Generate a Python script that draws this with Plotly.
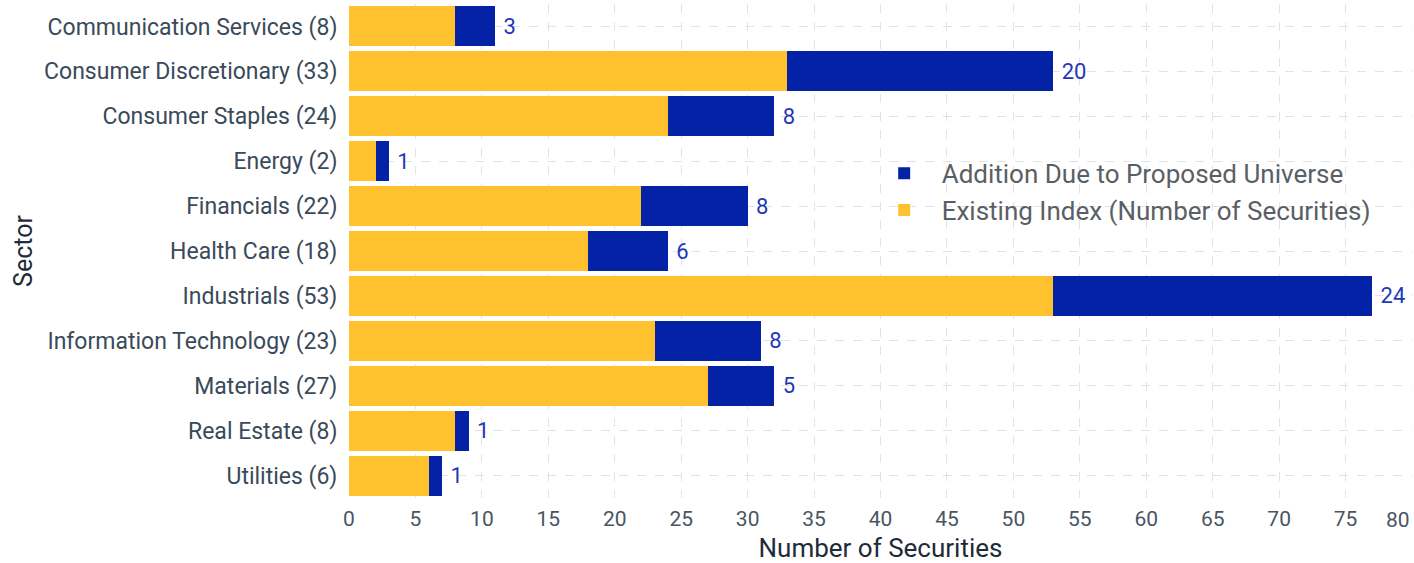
import plotly.graph_objects as go

sectors = ["Communication Services (8)", "Consumer Discretionary (33)", "Consumer Staples (24)",
           "Energy (2)", "Financials (22)", "Health Care (18)", "Industrials (53)",
           "Information Technology (23)", "Materials (27)", "Real Estate (8)", "Utilities (6)"]
existing = [8, 33, 24, 2, 22, 18, 53, 23, 27, 8, 6]
addition = [3, 20, 8, 1, 8, 6, 24, 8, 5, 1, 1]
x_ticks = list(range(0, 81, 5))
x_tick_text = [str(v) for v in x_ticks[:-1]] + [""]  # last label drawn right-aligned below

fig = go.Figure()
fig.add_trace(go.Bar(
    y=sectors, x=existing, orientation="h", name="Existing Index (Number of Securities)",
    marker=dict(color="#FFC22E", line=dict(width=0)),
))
fig.add_trace(go.Bar(
    y=sectors, x=addition, orientation="h", name="Addition Due to Proposed Universe",
    marker=dict(color="#0422A6", line=dict(width=0)),
    text=[" " + str(v) for v in addition], textposition="outside",
    textfont=dict(color="#1F38B8", size=22, family="Roboto"), cliponaxis=False,
))

fig.add_annotation(
    x=x_ticks[-1], xref="x", y=0, yref="paper", yshift=-8,
    text=str(x_ticks[-1]), showarrow=False, xanchor="right", yanchor="top",
    font=dict(size=21, color="#4a5562", family="Roboto"),
)

fig.update_layout(
    barmode="stack", bargap=0.11,
    width=1414, height=563,
    plot_bgcolor="white", paper_bgcolor="white",
    font=dict(family="Roboto", size=22, color="#2a3f5f"),
    margin=dict(l=349, r=2, t=4, b=65, autoexpand=False),
    legend=dict(x=0.487, y=0.705, xanchor="left", yanchor="top", traceorder="reversed",
                font=dict(size=26, color="#5a5f66"), bgcolor="rgba(0,0,0,0)",
                itemwidth=65, tracegroupgap=0),
    showlegend=True,
)
fig.update_xaxes(
    range=[0, 80], tickvals=x_ticks, ticktext=x_tick_text,
    showgrid=True, gridcolor="#e3e3e3", griddash="dash",
    zeroline=False,
    title=dict(text="Number of Securities", font=dict(size=26, color="#1e2b38"), standoff=10),
    tickfont=dict(size=21, color="#4a5562"), ticks="outside", ticklen=2,
    tickcolor="rgba(0,0,0,0)", automargin=False, ticklabeloverflow="allow",
)
fig.update_yaxes(
    categoryorder="array", categoryarray=sectors, autorange="reversed",
    showgrid=True, gridcolor="#e3e3e3", griddash="dash",
    title=dict(text="Sector", font=dict(size=25, color="#1e2b38"), standoff=4),
    tickfont=dict(size=23, color="#3a4a5a"), ticks="outside", ticklen=6, tickcolor="rgba(0,0,0,0)",
    automargin=False,
)

fig.write_html("out.html", config={"displayModeBar": False},
               post_script="document.body.style.margin='0';")
